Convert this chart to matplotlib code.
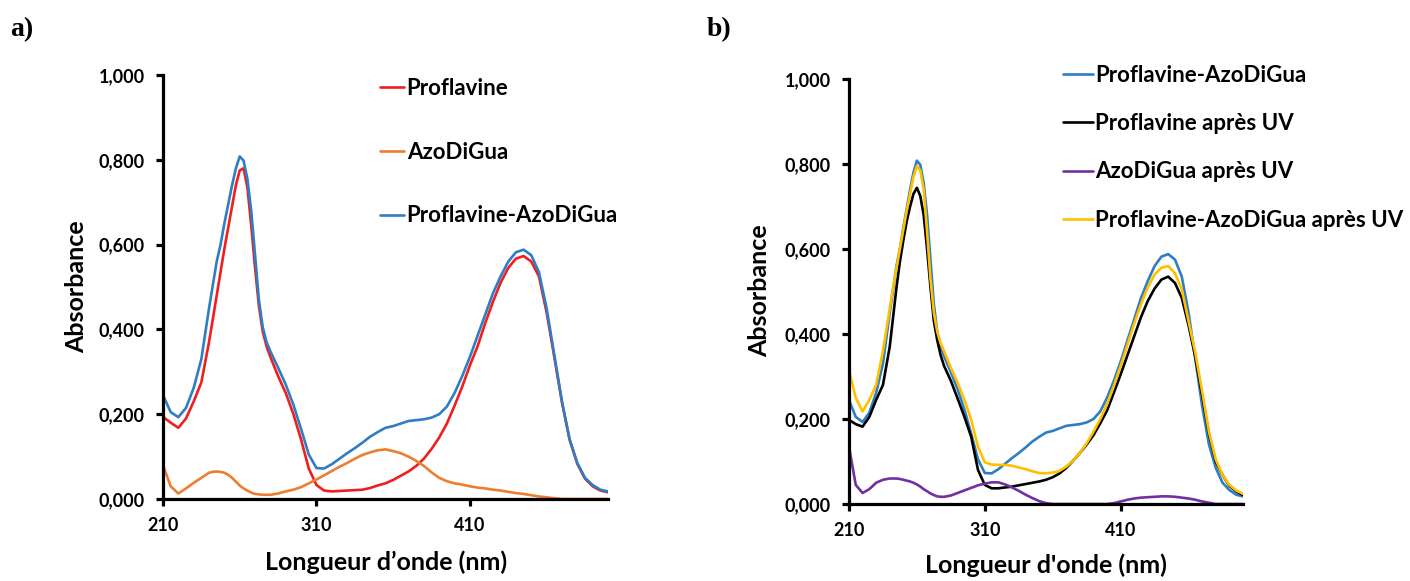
import numpy as np
import matplotlib
matplotlib.use("Agg")
import matplotlib.pyplot as plt

plt.rcParams['font.family'] = ['Lato', 'DejaVu Sans']
plt.rcParams['font.weight'] = 'bold'

# longueurs d'onde (nm) : pas de 5 nm, 2,5 nm autour du premier pic
wl = np.concatenate([np.arange(210, 240, 5), np.arange(240, 282.5, 2.5), np.arange(285, 505, 5)])

# panneau a)
proflavine = [0.194, 0.180, 0.168, 0.190, 0.230, 0.275,
              0.370, 0.425, 0.480, 0.535, 0.590, 0.640, 0.690, 0.740, 0.775, 0.780,
              0.735, 0.645, 0.545, 0.455, 0.395, 0.360, 0.335,
              0.290, 0.250, 0.200, 0.140, 0.072, 0.033, 0.020, 0.018, 0.019, 0.020,
              0.021, 0.022, 0.026, 0.032, 0.037, 0.045, 0.055, 0.065, 0.078, 0.095,
              0.118, 0.145, 0.178, 0.220, 0.265, 0.315, 0.360, 0.415, 0.465, 0.510,
              0.545, 0.567, 0.573, 0.560, 0.525, 0.440, 0.335, 0.228, 0.140, 0.083,
              0.048, 0.030, 0.020, 0.016]
azodigua = [0.080, 0.030, 0.013, 0.025, 0.038, 0.050,
            0.062, 0.064, 0.065, 0.064, 0.062, 0.057, 0.050, 0.041, 0.032, 0.025,
            0.020, 0.015, 0.012, 0.011, 0.010, 0.010, 0.010,
            0.013, 0.018, 0.022, 0.028, 0.037, 0.046, 0.056, 0.066, 0.076, 0.085,
            0.095, 0.104, 0.110, 0.115, 0.117, 0.113, 0.108, 0.100, 0.090, 0.078,
            0.063, 0.050, 0.042, 0.037, 0.034, 0.030, 0.027, 0.025, 0.022, 0.020,
            0.017, 0.014, 0.012, 0.009, 0.006, 0.004, 0.002, 0.000, 0.000, 0.000,
            0.000, 0.000, 0.000, 0.000]
proflavine_azodigua = [0.245, 0.205, 0.193, 0.215, 0.262, 0.330,
                       0.450, 0.505, 0.560, 0.600, 0.650, 0.695, 0.740, 0.780, 0.808, 0.798,
                       0.755, 0.680, 0.575, 0.470, 0.405, 0.370, 0.348,
                       0.310, 0.270, 0.222, 0.165, 0.105, 0.073, 0.072, 0.082, 0.095, 0.108,
                       0.120, 0.133, 0.147, 0.158, 0.168, 0.172, 0.178, 0.184, 0.186, 0.188,
                       0.192, 0.200, 0.218, 0.250, 0.290, 0.335, 0.385, 0.435, 0.485, 0.525,
                       0.560, 0.582, 0.588, 0.575, 0.535, 0.450, 0.340, 0.230, 0.140, 0.085,
                       0.050, 0.033, 0.022, 0.018]

# panneau b)
proflavine_uv = [0.198, 0.188, 0.182, 0.205, 0.245, 0.280,
                 0.370, 0.440, 0.510, 0.570, 0.620, 0.665, 0.700, 0.730, 0.744, 0.725,
                 0.680, 0.600, 0.510, 0.430, 0.385, 0.350, 0.325,
                 0.290, 0.248, 0.205, 0.158, 0.080, 0.045, 0.037, 0.037, 0.039, 0.041,
                 0.044, 0.047, 0.050, 0.053, 0.057, 0.063, 0.072, 0.085, 0.102, 0.120,
                 0.140, 0.162, 0.190, 0.220, 0.262, 0.305, 0.350, 0.395, 0.440, 0.478,
                 0.507, 0.528, 0.535, 0.520, 0.485, 0.420, 0.345, 0.255, 0.165, 0.100,
                 0.068, 0.043, 0.030, 0.021]
azodigua_uv = [0.135, 0.045, 0.026, 0.035, 0.050, 0.057,
               0.060, 0.060, 0.060, 0.059, 0.057, 0.055, 0.053, 0.050, 0.046, 0.041,
               0.035, 0.030, 0.025, 0.021, 0.018, 0.017, 0.017,
               0.020, 0.026, 0.032, 0.038, 0.044, 0.048, 0.051, 0.051, 0.046, 0.039,
               0.031, 0.022, 0.014, 0.007, 0.002, 0.000, 0.000, 0.000, 0.000, 0.000,
               0.000, 0.000, 0.000, 0.000, 0.002, 0.006, 0.010, 0.013, 0.015, 0.016,
               0.017, 0.018, 0.018, 0.017, 0.015, 0.013, 0.010, 0.006, 0.003, 0.000,
               0.000, 0.000, 0.000, 0.000]
proflavine_azodigua_uv = [0.315, 0.250, 0.218, 0.245, 0.280, 0.360,
                          0.460, 0.510, 0.555, 0.600, 0.645, 0.690, 0.730, 0.770, 0.795, 0.785,
                          0.740, 0.640, 0.530, 0.450, 0.405, 0.378, 0.360,
                          0.320, 0.285, 0.245, 0.198, 0.135, 0.098, 0.093, 0.092, 0.092, 0.090,
                          0.086, 0.082, 0.077, 0.073, 0.072, 0.074, 0.078, 0.088, 0.102, 0.120,
                          0.143, 0.170, 0.200, 0.235, 0.278, 0.325, 0.375, 0.425, 0.470, 0.510,
                          0.540, 0.556, 0.560, 0.543, 0.505, 0.430, 0.355, 0.265, 0.170, 0.105,
                          0.068, 0.045, 0.032, 0.024]

x_ticks = [210, 310, 410]
y_ticks = [0, 0.2, 0.4, 0.6, 0.8, 1.0]
y_labels = ['0,000', '0,200', '0,400', '0,600', '0,800', '1,000']

c_red = '#F01E1E'
c_orange = '#ED7D31'
c_blue = '#2F7DC2'
c_black = '#000000'
c_purple = '#7030A0'
c_yellow = '#FFC000'

fig = plt.figure(figsize=(14.1, 5.81), dpi=100)
ax1 = fig.add_axes([0.1156, 0.1411, 0.3156, 0.7298])
ax2 = fig.add_axes([0.6021, 0.1325, 0.2794, 0.7315])

kw = dict(lw=1.9, solid_joinstyle='round', solid_capstyle='round')
ax1.plot(wl, proflavine, color=c_red, label='Proflavine', **kw)
ax1.plot(wl, azodigua, color=c_orange, label='AzoDiGua', **kw)
ax1.plot(wl, proflavine_azodigua, color=c_blue, label='Proflavine-AzoDiGua', **kw)

ax2.plot(wl, proflavine_azodigua, color=c_blue, label='Proflavine-AzoDiGua', **kw)
ax2.plot(wl, proflavine_uv, color=c_black, label='Proflavine après UV', **kw)
ax2.plot(wl, azodigua_uv, color=c_purple, label='AzoDiGua après UV', **kw)
ax2.plot(wl, proflavine_azodigua_uv, color=c_yellow, label='Proflavine-AzoDiGua après UV', **kw)

for ax in (ax1, ax2):
    ax.set_xlim(210, 500)
    ax.set_ylim(0, 1)
    ax.set_xticks(x_ticks)
    ax.set_yticks(y_ticks)
    ax.set_yticklabels(y_labels)
    for s in ('top', 'right'):
        ax.spines[s].set_visible(False)
    for s in ('left', 'bottom'):
        ax.spines[s].set_linewidth(2.3)
    ax.tick_params(width=2.3, length=5, labelsize=13, pad=8)
    for t in ax.get_xticklabels() + ax.get_yticklabels():
        t.set_fontweight('bold')

leg1 = ax1.legend(loc='upper left', bbox_to_anchor=(0.2695, 0.8663), bbox_transform=fig.transFigure,
                  frameon=False, fontsize=16, handlelength=1.1, handletextpad=0.1,
                  labelspacing=1.93, borderpad=0, borderaxespad=0)
leg2 = ax2.legend(loc='upper left', bbox_to_anchor=(0.754, 0.8886), bbox_transform=fig.transFigure,
                  frameon=False, fontsize=16, handlelength=1.35, handletextpad=0.1,
                  labelspacing=1.23, borderpad=0, borderaxespad=0)
for leg in (leg1, leg2):
    for t in leg.get_texts():
        t.set_fontweight('bold')

fig.text(77 / 1410, 1 - 287 / 581, 'Absorbance', rotation=90, ha='center', va='center',
         fontsize=18, fontweight='bold')
fig.text(760 / 1410, 1 - 291 / 581, 'Absorbance', rotation=90, ha='center', va='center',
         fontsize=18, fontweight='bold')
fig.text(386 / 1410, 1 - 570 / 581, 'Longueur d\u2019onde (nm)', ha='center', va='baseline',
         fontsize=18, fontweight='bold')
fig.text(1046 / 1410, 1 - 573 / 581, "Longueur d'onde (nm)", ha='center', va='baseline',
         fontsize=18, fontweight='bold')

fig.text(10 / 1410, 1 - 36 / 581, 'a)', family='Liberation Serif', fontsize=20, fontweight='bold')
fig.text(707 / 1410, 1 - 36 / 581, 'b)', family='Liberation Serif', fontsize=20, fontweight='bold')

fig.savefig('out.png', dpi=100)
